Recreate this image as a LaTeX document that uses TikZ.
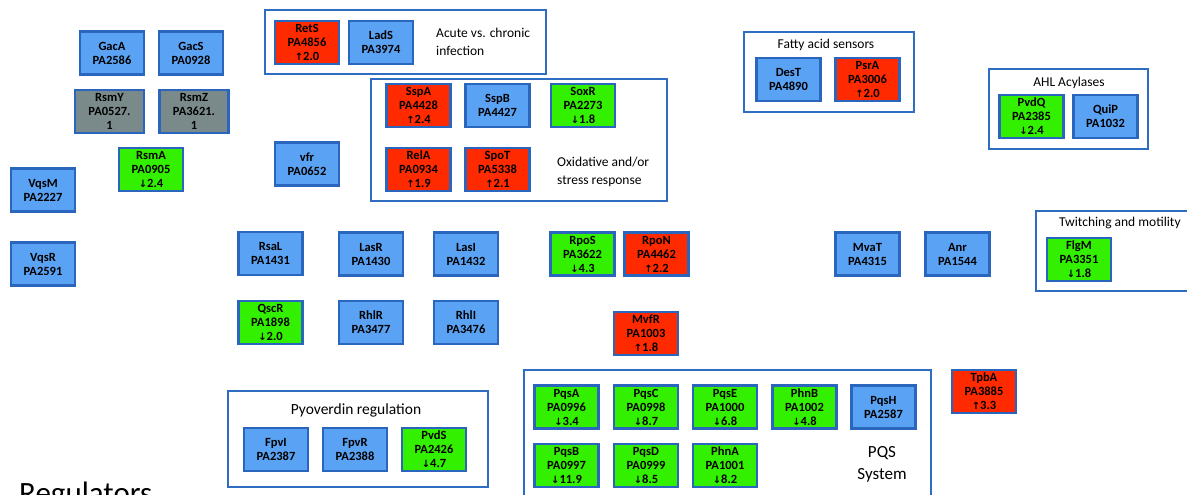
\documentclass[tikz,border=0pt]{standalone}
\usepackage{fontspec}
\setmainfont{Carlito}
\newfontfamily\arrfont{DejaVu Sans}
\newcommand\upa{{\arrfont\fontsize{10}{14}\selectfont ↑}}
\newcommand\dna{{\arrfont\fontsize{10}{14}\selectfont ↓}}
\definecolor{bluec}{HTML}{5AA2F4}
\definecolor{bordc}{HTML}{2A66BE}
\definecolor{redc}{HTML}{FF2A00}
\definecolor{greenc}{HTML}{33F000}
\definecolor{grayc}{HTML}{7A8A8A}
\definecolor{grpc}{HTML}{2E6DC2}
\begin{document}
\begin{tikzpicture}[x=1pt,y=-1pt,
  gene/.style={rectangle,draw=bordc,line width=2.4pt,minimum width=64pt,minimum height=43pt,inner sep=0pt,align=center,font=\bfseries\fontsize{12.5}{14}\selectfont},
  nbox/.style={gene,fill=bluec},
  upbox/.style={gene,fill=redc},
  downbox/.style={gene,fill=greenc},
  graybox/.style={gene,fill=grayc,minimum width=69pt},
  grp/.style={draw=grpc,line width=2pt},
  lbl/.style={font=\fontsize{13.5}{18}\selectfont,inner sep=0pt}]
\useasboundingbox (0,0) rectangle (1187,495);
\fill[white] (0,0) rectangle (1187,495);

% group frames
\draw[grp] (265,10) rectangle (546,74);
\draw[grp] (371,79) rectangle (667,201);
\draw[grp] (744,32) rectangle (914,112);
\draw[grp] (989,69) rectangle (1148,149);
\draw[grp] (1036,211) rectangle (1196,291);
\draw[grp] (228,391) rectangle (488,487);
\draw[grp] (524,370) rectangle (931,505);

% group labels
\node[lbl,anchor=west,align=left] (tacute) at (436,42) {Acute vs. chronic\\infection};
\node[lbl,anchor=west,align=left] (toxid) at (557,171.5) {Oxidative and/or\\stress response};
\node[lbl] (tfatty) at (826,45) {Fatty acid sensors};
\node[lbl] (tahl) at (1069,83) {AHL Acylases};
\node[lbl,anchor=west] (ttwitch) at (1059,223) {Twitching and motility};
\node[lbl,font=\fontsize{15.5}{18}\selectfont] (tpyo) at (356,410) {Pyoverdin regulation};
\node[lbl,font=\fontsize{17}{22}\selectfont,align=center] (tpqs) at (882,464) {PQS\\System};
\node[inner sep=0pt,anchor=base west,font=\fontsize{31}{36}\selectfont] (treg) at (19,503) {Regulators};

% genes
\node[nbox] (gacA) at (112,53) {GacA\\PA2586};
\node[nbox] (gacS) at (191,53) {GacS\\PA0928};
\node[graybox] (rsmY) at (109.5,111.5) {RsmY\\PA0527.\\1};
\node[graybox] (rsmZ) at (194,111.5) {RsmZ\\PA3621.\\1};
\node[downbox] (rsmA) at (151,169.5) {RsmA\\PA0905\\\dna2.4};
\node[nbox] (vqsM) at (43,190) {VqsM\\PA2227};
\node[nbox] (vqsR) at (43,264) {VqsR\\PA2591};
\node[nbox] (vfr) at (307,164) {vfr\\PA0652};

\node[upbox] (retS) at (307,42.5) {RetS\\PA4856\\\upa2.0};
\node[nbox] (ladS) at (381,42.5) {LadS\\PA3974};

\node[upbox] (sspA) at (418.5,105.5) {SspA\\PA4428\\\upa2.4};
\node[nbox] (sspB) at (497.5,105.5) {SspB\\PA4427};
\node[downbox] (soxR) at (583,105.5) {SoxR\\PA2273\\\dna1.8};
\node[upbox] (relA) at (418.5,169.5) {RelA\\PA0934\\\upa1.9};
\node[upbox] (spoT) at (497.5,169.5) {SpoT\\PA5338\\\upa2.1};

\node[nbox] (desT) at (788.5,79.5) {DesT\\PA4890};
\node[upbox] (psrA) at (867.5,79.5) {PsrA\\PA3006\\\upa2.0};

\node[downbox] (pvdQ) at (1031.5,116.5) {PvdQ\\PA2385\\\dna2.4};
\node[nbox] (quiP) at (1105.5,116.5) {QuiP\\PA1032};

\node[nbox] (mvaT) at (867.5,254) {MvaT\\PA4315};
\node[nbox] (anr) at (957.5,254) {Anr\\PA1544};
\node[downbox] (flgM) at (1079,259.5) {FlgM\\PA3351\\\dna1.8};

\node[nbox] (rsaL) at (270.5,253.5) {RsaL\\PA1431};
\node[nbox] (lasR) at (371,254) {LasR\\PA1430};
\node[nbox] (lasI) at (466,254) {LasI\\PA1432};
\node[downbox] (qscR) at (270.5,322.5) {QscR\\PA1898\\\dna2.0};
\node[nbox] (rhlR) at (371,322.5) {RhlR\\PA3477};
\node[nbox] (rhlI) at (466,322.5) {RhlI\\PA3476};

\node[downbox] (rpoS) at (582.5,254) {RpoS\\PA3622\\\dna4.3};
\node[upbox] (rpoN) at (656.5,254) {RpoN\\PA4462\\\upa2.2};
\node[upbox] (mvfR) at (646,333.5) {MvfR\\PA1003\\\upa1.8};

\node[nbox] (fpvI) at (276,449.5) {FpvI\\PA2387};
\node[nbox] (fpvR) at (355,449.5) {FpvR\\PA2388};
\node[downbox] (pvdS) at (434,449.5) {PvdS\\PA2426\\\dna4.7};

\node[downbox] (pqsA) at (566.5,407) {PqsA\\PA0996\\\dna3.4};
\node[downbox] (pqsC) at (646,407) {PqsC\\PA0998\\\dna8.7};
\node[downbox] (pqsE) at (725,407) {PqsE\\PA1000\\\dna6.8};
\node[downbox] (phnB) at (804.5,407) {PhnB\\PA1002\\\dna4.8};
\node[nbox] (pqsH) at (883.5,407) {PqsH\\PA2587};
\node[downbox] (pqsB) at (566.5,465.5) {PqsB\\PA0997\\\dna11.9};
\node[downbox] (pqsD) at (646,465.5) {PqsD\\PA0999\\\dna8.5};
\node[downbox] (phnA) at (725,465.5) {PhnA\\PA1001\\\dna8.2};

\node[upbox] (tpbA) at (984,391.5) {TpbA\\PA3885\\\upa3.3};
\end{tikzpicture}
\end{document}
